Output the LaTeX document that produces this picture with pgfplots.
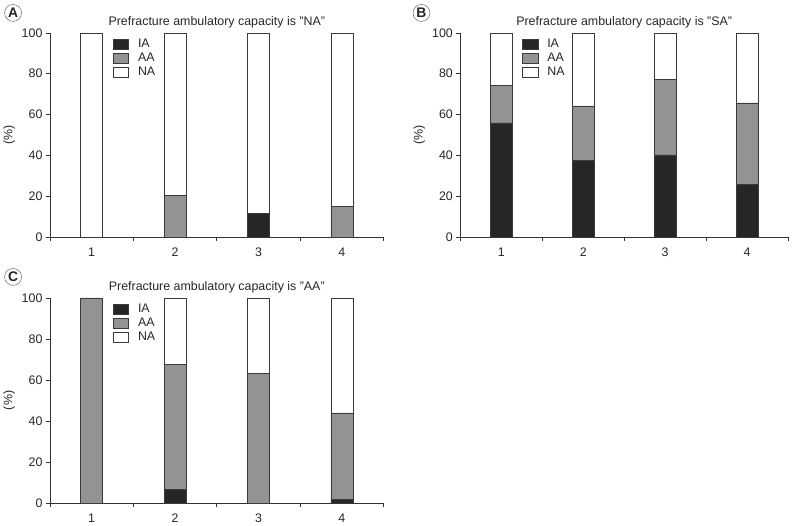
\documentclass[border=0pt]{standalone}
\usepackage{fontspec}
\setmainfont{Liberation Sans}
\usepackage{pgfplots}
\pgfplotsset{compat=1.18}
\definecolor{ia}{HTML}{262626}
\definecolor{aa}{HTML}{939393}
\definecolor{edge}{HTML}{3A3A3A}
\pgfplotsset{
  panel/.style={
    ybar stacked,
    scale only axis,
    anchor=south west,
    xmin=0.5, xmax=4.5, ymin=0, ymax=100,
    bar width=22bp,
    axis x line*=bottom, axis y line*=left,
    axis line style={-, draw=black!80, line width=0.6bp},
    xtick={1,2,3,4},
    major x tick style={draw=none},
    minor xtick={0.5,1.5,2.5,3.5,4.5},
    minor x tick style={draw=black!80, line width=0.6bp},
    minor tick length=4bp,
    ytick={0,20,40,60,80,100},
    major tick length=4bp,
    tick align=outside,
    y tick style={draw=black!80, line width=0.6bp},
    /pgf/number format/assume math mode=true,
    tick label style={font=\fontsize{12.5}{14}\selectfont, text=black!85},
    xticklabel style={yshift=-3bp},
    title style={at={(0.5,1)}, anchor=base, yshift=1.3bp, inner sep=0pt, font=\fontsize{12.5}{14}\selectfont, text=black!85},
    ylabel={(\%)},
    ylabel style={at={([xshift=-41bp]axis description cs:0,0.5)}, anchor=center, font=\fontsize{12.5}{14}\selectfont, text=black!85},
    legend style={at={(rel axis cs:0.187,0.975)}, anchor=north west, draw=none, fill=none, inner sep=0pt,
      font=\fontsize{12.5}{14}\selectfont, text=black!85, row sep=2bp,
      nodes={inner sep=1bp},
      /tikz/every odd column/.append style={column sep=8bp}},
    legend cell align=left,
    legend image code/.code={\draw[#1, line width=0.6bp] (0bp,-5bp) rectangle (16bp,5bp);},
    every axis plot/.append style={draw=edge, line width=0.6bp},
  }
}
\pgfplotstableread{
x IA AA NA
1 0 0 100
2 0 20.4 79.6
3 11.5 0 88.5
4 0 15.0 85.0
}\dataA
\pgfplotstableread{
x IA AA NA
1 55.9 18.2 25.9
2 37.7 26.5 35.8
3 40.2 36.9 22.9
4 25.9 39.8 34.3
}\dataB
\pgfplotstableread{
x IA AA NA
1 0 100 0
2 6.6 60.8 32.6
3 0 63.2 36.8
4 1.6 42.3 56.1
}\dataC
\begin{document}
\begin{tikzpicture}
\path (0bp,0bp) rectangle (795bp,523bp);
% Panel A
\begin{axis}[panel, at={(47bp,285bp)}, width=335bp, height=205bp,
  title={Prefracture ambulatory capacity is "NA"}]
\addplot[fill=ia] table[x=x,y=IA]{\dataA};
\addplot[fill=aa] table[x=x,y=AA]{\dataA};
\addplot[fill=white] table[x=x,y=NA]{\dataA};
\legend{IA,AA,NA}
\end{axis}
% Panel B
\begin{axis}[panel, at={(459bp,285bp)}, width=329bp, height=205bp,
  title={Prefracture ambulatory capacity is "SA"}]
\addplot[fill=ia] table[x=x,y=IA]{\dataB};
\addplot[fill=aa] table[x=x,y=AA]{\dataB};
\addplot[fill=white] table[x=x,y=NA]{\dataB};
\legend{IA,AA,NA}
\end{axis}
% Panel C
\begin{axis}[panel, at={(47bp,18bp)}, width=335bp, height=206bp,
  title={Prefracture ambulatory capacity is "AA"}]
\addplot[fill=ia] table[x=x,y=IA]{\dataC};
\addplot[fill=aa] table[x=x,y=AA]{\dataC};
\addplot[fill=white] table[x=x,y=NA]{\dataC};
\legend{IA,AA,NA}
\end{axis}
\foreach \l/\px/\py in {A/10/510, B/420/510, C/10/245}{
  \node[circle, draw=black!60, line width=0.5bp, inner sep=0pt, minimum size=17bp,
        font=\fontsize{14}{15}\selectfont\bfseries, text=black!85] at (\px bp,\py bp) {\l};
}
\end{tikzpicture}
\end{document}
